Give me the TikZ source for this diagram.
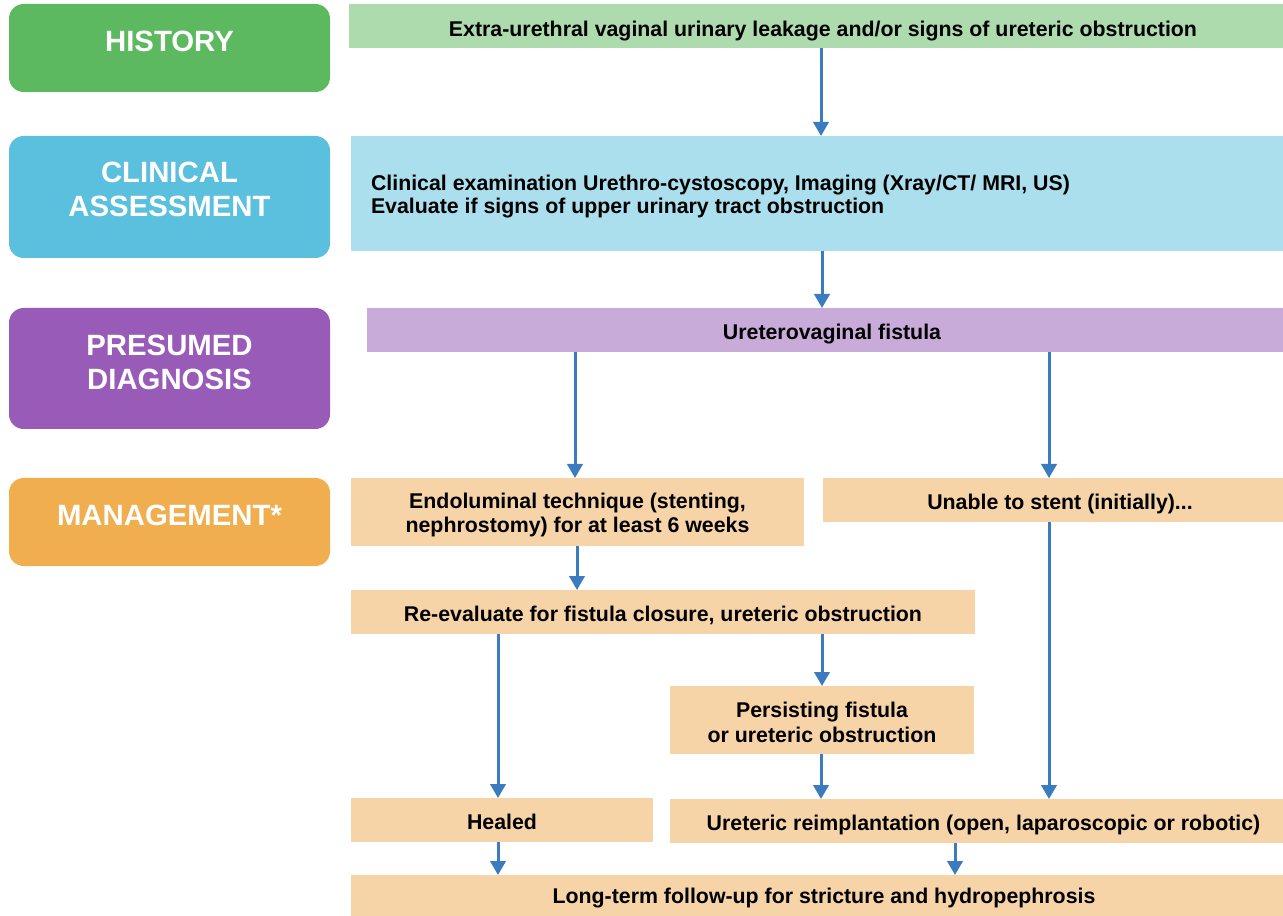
\documentclass[tikz,border=0pt]{standalone}
\usepackage{fontspec}
\setmainfont{Liberation Sans}
\usetikzlibrary{arrows.meta}
\definecolor{gH}{HTML}{5DB960}
\definecolor{bH}{HTML}{5BC0DE}
\definecolor{pH}{HTML}{995BB8}
\definecolor{oH}{HTML}{F0AE4F}
\definecolor{gL}{HTML}{ADDBAE}
\definecolor{bL}{HTML}{ABDFED}
\definecolor{pL}{HTML}{C9ABD9}
\definecolor{oL}{HTML}{F6D4A8}
\definecolor{arrowc}{HTML}{3A7CBF}
\newcommand{\mytab}[2]{\begin{tabular}[t]{@{}#1@{}}#2\end{tabular}}
\begin{document}
\begin{tikzpicture}[x=0.75pt,y=-0.75pt,
  sz/.style 2 args={minimum width=#1*0.75pt,minimum height=#2*0.75pt},
  lbl/.style={rounded corners=11pt, inner sep=0pt, outer sep=0pt, text=white,
    font=\fontsize{22}{25.5}\selectfont\bfseries},
  box/.style={inner sep=0pt, outer sep=0pt,
    font=\fontsize{16}{18}\selectfont\bfseries},
  one/.style={text height=#1, text depth=0pt},
  two/.style={text height=0pt, text depth=#1},
  arr/.style={draw=arrowc, line width=2.25pt, -{Triangle[width=11.5pt,length=10.5pt]}}]
\fill[white] (0,0) rectangle (1283,916);
\useasboundingbox (0,0) rectangle (1283,916);
% left labels
\node[lbl, fill=gH, sz={321}{88}, one=5.25pt] (lh) at (169.5,48) {HISTORY};
\node[lbl, fill=bH, sz={321}{122}, two=21pt] (lc) at (169.5,197) {\mytab{c}{CLINICAL\\ASSESSMENT}};
\node[lbl, fill=pH, sz={321}{121}, two=18.75pt] (lp) at (169.5,368.5) {\mytab{c}{PRESUMED\\DIAGNOSIS}};
\node[lbl, fill=oH, sz={321}{88}, one=5.25pt] (lm) at (169.5,522) {MANAGEMENT*};
% content boxes
\node[box, fill=gL, sz={948}{44}, one=16pt] (hist) at (823,26) {Extra-urethral vaginal urinary leakage and/or signs of ureteric obstruction};
\node[box, fill=bL, sz={946}{115}, two=4.3pt,
  font=\fontsize{16}{17.25}\selectfont\bfseries] (clin) at (824,193.5)
  {\makebox[679.5pt][l]{\mytab{l}{Clinical examination Urethro-cystoscopy, Imaging (Xray/CT/ MRI, US)\\Evaluate if signs of upper urinary tract obstruction}}};
\node[box, fill=pL, sz={930}{44}, one=13.7pt] (diag) at (832,330) {Ureterovaginal fistula};
\node[box, fill=oL, sz={453}{68}, two=5.8pt] (endo) at (577.5,512) {\mytab{c}{Endoluminal technique (stenting,\\nephrostomy) for at least 6 weeks}};
\node[box, fill=oL, sz={474}{44}, one=13.7pt] (unable) at (1060,500) {Unable to stent (initially)...};
\node[box, fill=oL, sz={624}{44}, one=13.7pt] (reeval) at (663,612) {Re-evaluate for fistula closure, ureteric obstruction};
\node[box, fill=oL, sz={304}{68}, two=4pt,
  font=\fontsize{16}{18.75}\selectfont\bfseries] (persist) at (822,720) {\mytab{c}{Persisting fistula\\or ureteric obstruction}};
\node[box, fill=oL, sz={302}{44}, one=13.7pt] (healed) at (502,820) {Healed};
\node[box, fill=oL, sz={627}{44}, one=13.7pt] (reimp) at (983.5,821) {Ureteric reimplantation (open, laparoscopic or robotic)};
\node[box, fill=oL, sz={946}{41}, one=12pt] (long) at (824,895.5) {Long-term follow-up for stricture and hydropephrosis};
% arrows
\draw[arr] (hist.south -| 821,0) -- (clin.north -| 821,0);
\draw[arr] (clin.south -| 822,0) -- (diag.north -| 822,0);
\draw[arr] (diag.south -| 575,0) -- (endo.north -| 575,0);
\draw[arr] (diag.south -| 1049,0) -- (unable.north -| 1049,0);
\draw[arr] (endo.south -| 577,0) -- (reeval.north -| 577,0);
\draw[arr] (reeval.south -| 498,0) -- (healed.north -| 498,0);
\draw[arr] (reeval.south -| 822,0) -- (persist.north -| 822,0);
\draw[arr] (unable.south -| 1049,0) -- (reimp.north -| 1049,0);
\draw[arr] (persist.south -| 821,0) -- (reimp.north -| 821,0);
\draw[arr] (healed.south -| 498,0) -- (long.north -| 498,0);
\draw[arr] (reimp.south -| 955,0) -- (long.north -| 955,0);
\end{tikzpicture}
\end{document}
